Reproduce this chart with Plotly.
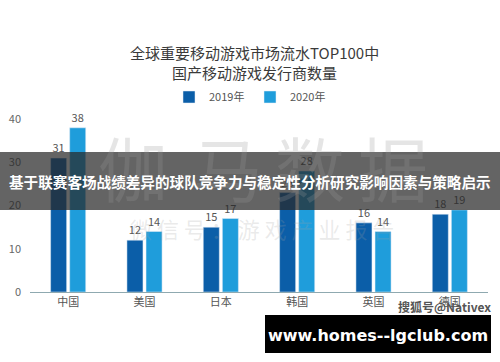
import plotly.graph_objects as go

categories = ["中国", "美国", "日本", "韩国", "英国", "德国"]
values_2019 = [31, 12, 15, 23, 16, 18]
values_2020 = [38, 14, 17, 28, 14, 19]
series_names = ["2019年", "2020年"]
y_ticks = [0, 10, 20, 30, 40]

W, H = 500, 362
L, R, T, B = 30, 12, 117, 70
PW, PH = W - L - R, H - T - B

def px(x):
    return (x - L) / PW

def py(y):
    return (H - B - y) / PH

FONT = "Noto Sans CJK SC"

fig = go.Figure()
fig.add_trace(go.Bar(x=categories, y=values_2019, name=series_names[0],
                     marker_color="#0b5ea8", text=values_2019, textposition="outside",
                     textfont=dict(size=11, color="#555555"), cliponaxis=False))
fig.add_trace(go.Bar(x=categories, y=values_2020, name=series_names[1],
                     marker_color="#1f9ddb", text=values_2020, textposition="outside",
                     textfont=dict(size=11, color="#555555"), cliponaxis=False))

fig.update_layout(
    width=W, height=H,
    margin=dict(l=L, r=R, t=T, b=B, autoexpand=False),
    paper_bgcolor="white", plot_bgcolor="white",
    font=dict(family=FONT, color="#555555"),
    barmode="group", bargap=0.5, bargroupgap=0.16,
    showlegend=True,
    legend=dict(orientation="h", x=px(250), xanchor="center", y=py(97), yanchor="middle",
                font=dict(size=11, color="#555555"), itemwidth=30, entrywidth=36,
                traceorder="normal"),
    xaxis=dict(showline=True, linecolor="#8fa9b0", linewidth=1, ticks="",
               tickfont=dict(size=11, color="#555555"), showgrid=False, automargin=False),
    yaxis=dict(range=[0, 40.5], tickvals=y_ticks, showgrid=False, zeroline=False,
               showline=False, tickfont=dict(size=11, color="#666666"),
               ticklabelstandoff=8, automargin=False),
)

annotations = []
# title
annotations.append(dict(text="全球重要移动游戏市场流水TOP100中<br>国产移动游戏发行商数量",
                        xref="paper", yref="paper", x=px(254), y=py(62), xanchor="center",
                        yanchor="middle", showarrow=False,
                        font=dict(size=15, color="#3a3a3a", family=FONT)))
# watermark
for ch, cx in zip("伽马数据", [133, 228, 310, 393]):
    annotations.append(dict(text=ch, xref="paper", yref="paper", x=px(cx), y=py(166),
                            xanchor="center", yanchor="middle", showarrow=False,
                            font=dict(size=70, color="rgba(150,150,150,0.25)", family=FONT)))
annotations.append(dict(text="微 信 号 ： 游 戏 产 业 报 告", xref="paper", yref="paper",
                        x=px(262), y=py(228), xanchor="center", yanchor="middle",
                        showarrow=False,
                        font=dict(size=22, color="rgba(160,160,160,0.22)", family=FONT)))
# banner text
annotations.append(dict(text="<b>基于联赛客场战绩差异的球队竞争力与稳定性分析研究影响因素与策略启示</b>",
                        xref="paper", yref="paper", x=px(250), y=py(181), xanchor="center",
                        yanchor="middle", showarrow=False,
                        font=dict(size=14.6, color="white", family=FONT)))
# sohu watermark
annotations.append(dict(text="<b>搜狐号@Nativex</b>", xref="paper", yref="paper", x=px(444),
                        y=py(306), xanchor="center", yanchor="middle", showarrow=False,
                        font=dict(size=12, color="#555555", family=FONT)))
# url box text
annotations.append(dict(text="<b>www.homes--lgclub.com</b>", xref="paper", yref="paper",
                        x=px(378), y=py(335), xanchor="center", yanchor="middle",
                        showarrow=False, font=dict(size=16, color="white", family="DejaVu Sans")))
fig.update_layout(annotations=annotations)

fig.add_shape(type="rect", xref="paper", yref="paper", x0=px(0), x1=px(500),
              y0=py(210), y1=py(152), fillcolor="rgba(40,40,40,0.72)", line_width=0,
              layer="above")
fig.add_shape(type="rect", xref="paper", yref="paper", x0=px(265), x1=px(491),
              y0=py(353), y1=py(315), fillcolor="black", line_width=0, layer="above")

fig.write_html("out.html", config={"displayModeBar": False},
               post_script="document.body.style.margin='0';document.body.style.overflow='hidden';")
